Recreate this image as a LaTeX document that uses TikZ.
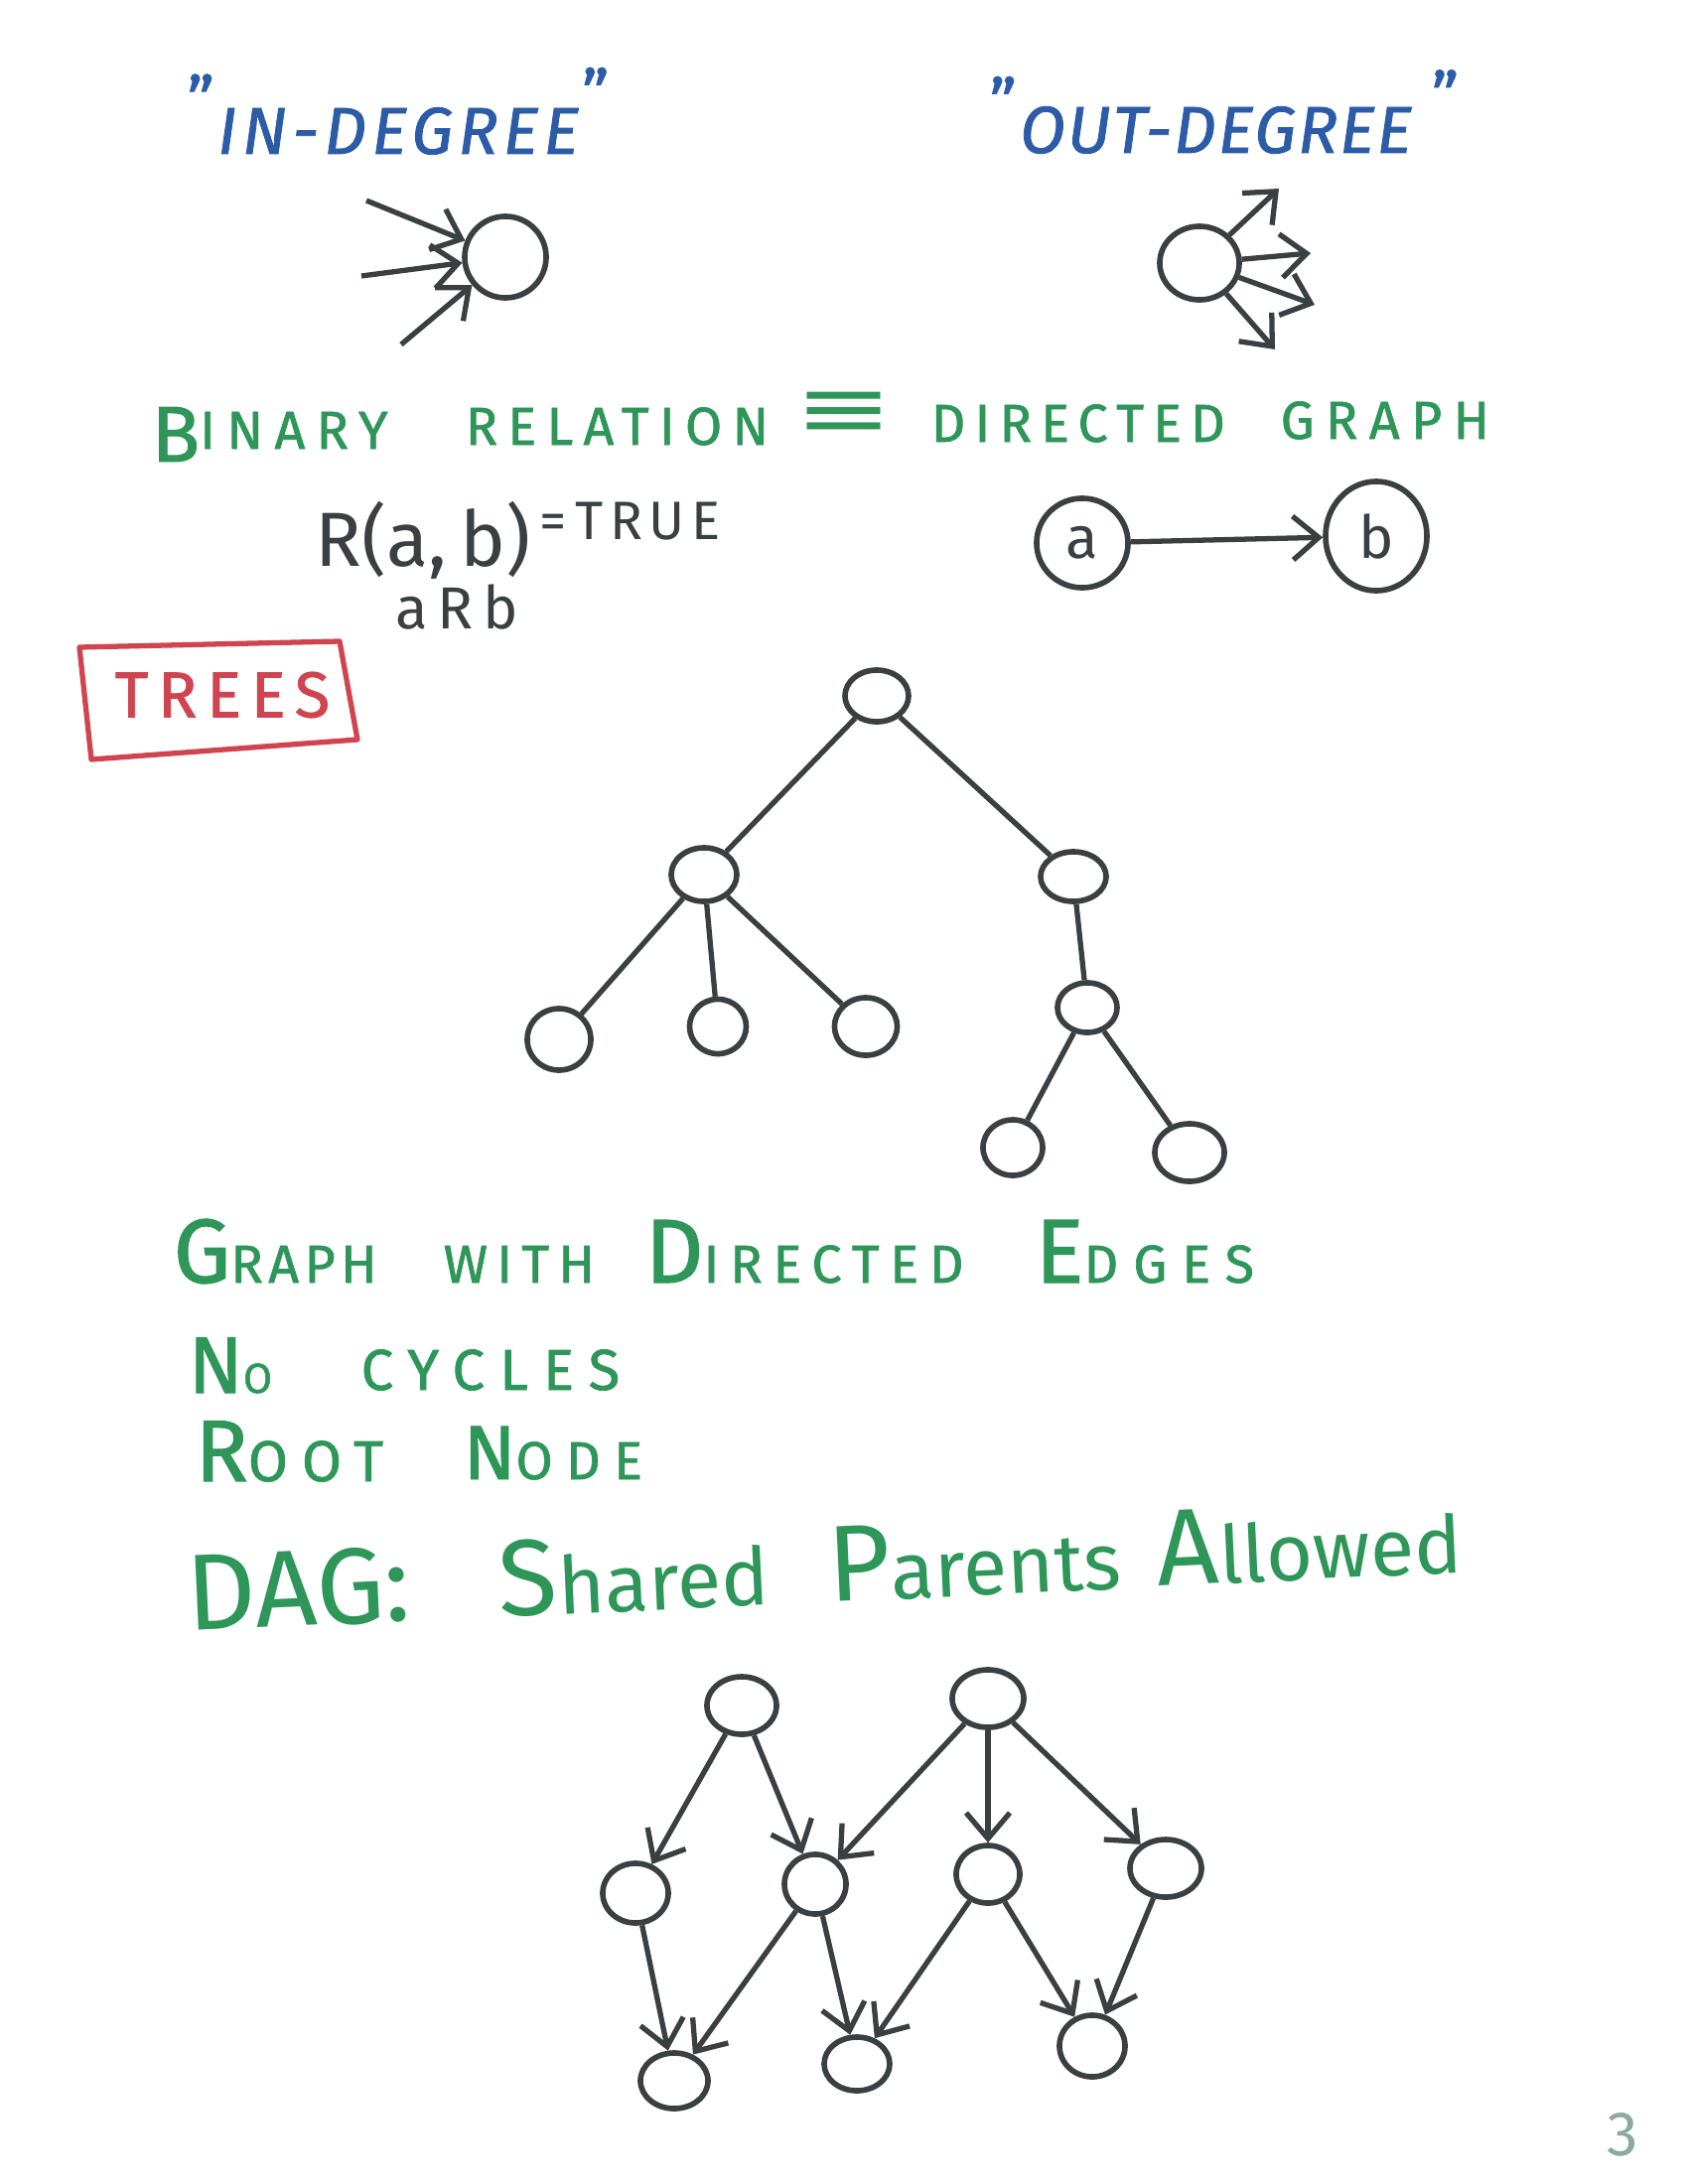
\documentclass[tikz,border=0pt]{standalone}
\usepackage{fontspec}
\setmainfont{Fira Sans}
\newfontfamily\symfont{DejaVu Sans}
\usetikzlibrary{arrows.meta,shapes.geometric}
\definecolor{ink}{RGB}{58,64,66}
\definecolor{bl}{RGB}{44,92,168}
\definecolor{gr}{RGB}{46,150,88}
\definecolor{rd}{RGB}{208,68,80}
\definecolor{pg}{RGB}{140,170,160}
\newcommand\Fs[2]{{\fontsize{#1}{#1}\selectfont #2}}
\newcommand\Ls[1]{\addfontfeatures{LetterSpace=#1,FakeBold=1.2}}
\begin{document}
\begin{tikzpicture}[x=0.01cm,y=-0.01cm,
  nd/.style 2 args={draw=ink,line width=1.6pt,ellipse,inner sep=0pt,minimum width=#1mm,minimum height=#2mm},
  arr/.style={draw=ink,line width=1.5pt,-{Straight Barb[length=2.6mm,width=4.4mm]}},
  ln/.style={draw=ink,line width=1.5pt},
  hdr/.style={text=bl,anchor=base west,inner sep=0pt,font=\fontsize{19pt}{19pt}\selectfont\itshape},
  gw/.style={text=gr,anchor=base west,inner sep=0pt,font=\fontsize{15.3pt}{15.3pt}\selectfont},
  dg/.style={text=gr,anchor=base west,inner sep=0pt,rotate=2.6,font=\fontsize{23pt}{23pt}\selectfont}]
\useasboundingbox (0,0) rectangle (1700,2200);
\fill[white] (0,0) rectangle (1700,2200);

% headers
\node[hdr] (indeg) at (188,155) {\Ls{8}\raisebox{0.45em}{\upshape"}\hspace{0.05em}IN-DEGREE\hspace{0.05em}\raisebox{0.55em}{\upshape"}};
\node[hdr] (outdeg) at (996,154) {\Ls{3}\raisebox{0.4em}{\upshape"}\hspace{0.05em}OUT-DEGREE\hspace{0.3em}\raisebox{0.5em}{\upshape"}};

% in-degree
\node[nd={8.2}{8.2}] (ic) at (509,259) {};
\coordinate (i1) at (369,202);
\coordinate (i2) at (364,278);
\coordinate (i3) at (404,347);
\draw[arr] (i1) -- (ic);
\draw[arr] (i2) -- (ic);
\draw[arr] (i3) -- (ic);

% out-degree
\node[nd={8.0}{7.4}] (oc) at (1208,265) {};
\coordinate (o1) at (1288,190);
\coordinate (o2) at (1320,255);
\coordinate (o3) at (1324,307);
\coordinate (o4) at (1284,352);
\draw[arr] (oc) -- (o1);
\draw[arr] (oc) -- (o2);
\draw[arr] (oc) -- (o3);
\draw[arr] (oc) -- (o4);

% binary relation line
\node[gw] (w1) at (152,452) {\Ls{21}\raisebox{-1.3mm}{\Fs{22.7pt}{B}}INARY};
\node[gw] (w2) at (468,448) {\Ls{19}RELATION};
\node[text=gr,inner sep=0pt,font=\symfont\fontsize{24pt}{24pt}\selectfont] (eq) at (850,418) {\scalebox{1.4}[1]{≡}};
\node[gw] (w3) at (937,445) {\Ls{17}DIRECTED};
\node[gw] (w4) at (1289,442) {\Ls{21}GRAPH};

\node[text=ink,anchor=base west,inner sep=0pt] (rab) at (317,570) {\Fs{22pt}{R(a,\,b)}\raisebox{2.6mm}{\Fs{15.5pt}{\,=\,\addfontfeatures{LetterSpace=12}TRUE}}};
\node[text=ink,anchor=base west,inner sep=0pt,font=\fontsize{17pt}{17pt}\selectfont] (arb) at (398,633) {\addfontfeatures{LetterSpace=16}aRb};

\node[nd={9.2}{9.0},font=\fontsize{17pt}{17pt}\selectfont,text=ink] (na) at (1090,547) {a};
\node[nd={10.2}{11.0},font=\fontsize{17pt}{17pt}\selectfont,text=ink] (nb) at (1386,540) {b};
\draw[arr] (na) -- (nb);

% TREES box
\draw[rd,line width=1.5pt,line cap=round,line join=round] (80,652) -- (342,646) -- (360,745) -- (92,765) -- cycle;
\node[text=rd,inner sep=0pt,font=\fontsize{18.5pt}{18.5pt}\selectfont] (trees) at (224,700) {\Ls{15}TREES};

% tree
\node[nd={6.4}{5.2}] (r0) at (883,701) {};
\node[nd={6.6}{5.4}] (l1) at (709,881) {};
\node[nd={6.6}{5.0}] (r1) at (1081,883) {};
\node[nd={6.4}{6.2}] (l2a) at (563,1047) {};
\node[nd={5.7}{5.5}] (l2b) at (723,1034) {};
\node[nd={6.3}{5.8}] (l2c) at (872,1034) {};
\node[nd={6.0}{5.0}] (r2) at (1095,1015) {};
\node[nd={6.0}{5.6}] (r3a) at (1020,1156) {};
\node[nd={7.0}{5.8}] (r3b) at (1198,1161) {};
\draw[ln] (r0) -- (l1);
\draw[ln] (r0) -- (r1);
\draw[ln] (l1) -- (l2a);
\draw[ln] (l1) -- (l2b);
\draw[ln] (l1) -- (l2c);
\draw[ln] (r1) -- (r2);
\draw[ln] (r2) -- (r3a);
\draw[ln] (r2) -- (r3b);

% tree properties
\node[gw] (t1) at (174,1292) {\Ls{10}\Fs{26pt}{G}RAPH};
\node[gw] (t2) at (446,1292) {\Ls{17}WITH};
\node[gw] (t3) at (649,1292) {\Ls{20}\Fs{26pt}{D}IRECTED};
\node[gw] (t4) at (1042,1292) {\Ls{28}\Fs{26pt}{E}DGES};
\node[gw] (p1) at (189,1403) {\Ls{6}\Fs{23pt}{N}\Fs{12pt}{O}};
\node[gw,font=\fontsize{16.5pt}{16.5pt}\selectfont] (p2) at (363,1400) {\Ls{26}CYCLES};
\node[gw,font=\fontsize{16.5pt}{16.5pt}\selectfont] (q1) at (196,1492) {\Ls{24}\Fs{25pt}{R}OOT};
\node[gw] (q2) at (466,1490) {\Ls{25}\Fs{22pt}{N}ODE};

% DAG line
\node[dg] (d1) at (189,1643) {\Fs{31pt}{DAG:}};
\node[dg] (d2) at (503,1629) {\Fs{31pt}{S}hared};
\node[dg] (d3) at (835,1614) {\Fs{31pt}{P}arents};
\node[dg] (d4) at (1166,1598) {\Fs{31pt}{A}llowed};

% DAG
\node[nd={7.0}{5.8}] (T1) at (747,1718) {};
\node[nd={7.2}{5.8}] (T2) at (995,1711) {};
\node[nd={6.6}{6.0}] (M1) at (640,1907) {};
\node[nd={6.2}{6.0}] (M2) at (821,1898) {};
\node[nd={6.4}{5.8}] (M3) at (995,1888) {};
\node[nd={7.2}{5.8}] (M4) at (1174,1882) {};
\node[nd={6.8}{5.6}] (B1) at (679,2096) {};
\node[nd={6.6}{5.4}] (B2) at (863,2079) {};
\node[nd={6.6}{6.2}] (B3) at (1100,2061) {};
\draw[arr] (T1) -- (M1);
\draw[arr] (T1) -- (M2);
\draw[arr] (T2) -- (M2);
\draw[arr] (T2) -- (M3);
\draw[arr] (T2) -- (M4);
\draw[arr] (M1) -- (B1);
\draw[arr] (M2) -- (B1);
\draw[arr] (M2) -- (B2);
\draw[arr] (M3) -- (B2);
\draw[arr] (M3) -- (B3);
\draw[arr] (M4) -- (B3);

\node[text=pg,inner sep=0pt,font=\fontsize{18pt}{18pt}\selectfont] (pgn) at (1634,2150) {3};
\end{tikzpicture}
\end{document}
